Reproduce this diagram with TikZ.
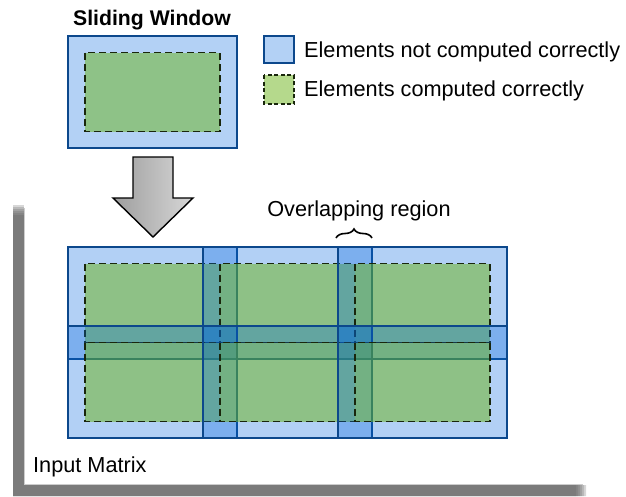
\documentclass[tikz,border=0pt]{standalone}
\usepackage{fontspec}
\setmainfont{Liberation Sans}
\usetikzlibrary{decorations.pathreplacing}
\definecolor{winblue}{RGB}{2,102,222}
\definecolor{winborder}{RGB}{12,72,140}
\definecolor{okgreen}{RGB}{107,179,25}
\definecolor{okborder}{RGB}{25,38,12}
\definecolor{shadowgray}{RGB}{95,95,95}
\definecolor{edgegray}{RGB}{205,205,205}
\definecolor{arrowdark}{RGB}{158,158,158}
\definecolor{arrowlight}{RGB}{215,215,215}
\tikzset{
  bluebox/.style={fill=winblue, fill opacity=0.3, draw=winborder, line width=1.5pt},
  greenbox/.style={fill=okgreen, fill opacity=0.5, draw=okborder, line width=1.8pt, dash pattern=on 7pt off 4pt},
  lbl/.style={inner sep=0pt, font=\fontsize{21.7}{26}\selectfont},
  shadowpart/.style={fill=shadowgray, opacity=0.25},
}
\begin{document}
\begin{tikzpicture}[x=1pt, y=-1pt]
\useasboundingbox (0,0) rectangle (626,496);
% panel shadow
\foreach \k in {0,...,5}
  \path[shadowpart] (13,205+2*\k) rectangle (24,496) (24,485) rectangle (586-2*\k,496);
\fill[white] (24,200) rectangle (583,484);
\draw[edgegray, line width=1pt] (24,208) -- (24,484) -- (583,484);
% sliding window
\path[bluebox] (68,36) rectangle ++(169,112);
\path[greenbox] (85,52.5) rectangle ++(135,79);
\node[lbl, font=\fontsize{21.2}{26}\selectfont\bfseries, anchor=base] (title) at (152,25) {Sliding Window};
% legend
\path[bluebox] (264,36) rectangle (294,63);
\path[greenbox, line width=1.4pt, dash pattern=on 4pt off 2.5pt] (264,75) rectangle (294,104);
\node[lbl, anchor=base west] (leg1) at (304,57) {Elements not computed correctly};
\node[lbl, anchor=base west] (leg2) at (304,96) {Elements computed correctly};
% arrow
\path[draw=black, line width=1.4pt, left color=arrowdark, right color=arrowlight]
  (133,157) -- (173,157) -- (173,198) -- (193,198) -- (153,237) -- (113,198) -- (133,198) -- cycle;
% matrix windows
\foreach \yy in {247,326}
  \foreach \xx in {68,203,338} {
    \path[bluebox] (\xx,\yy) rectangle ++(169,112);
    \path[greenbox] (\xx+17,\yy+16.5) rectangle ++(135,79);
  }
% overlap label
\node[lbl, anchor=base] (ovl) at (359,216) {Overlapping region};
\coordinate (bracel) at (336,238);
\coordinate (bracer) at (372,238);
\draw[decorate, decoration={brace, amplitude=9pt}, line width=1.6pt] (bracel) -- (bracer);
\node[lbl, anchor=base west] (inm) at (33,472) {Input Matrix};
\end{tikzpicture}
\end{document}
